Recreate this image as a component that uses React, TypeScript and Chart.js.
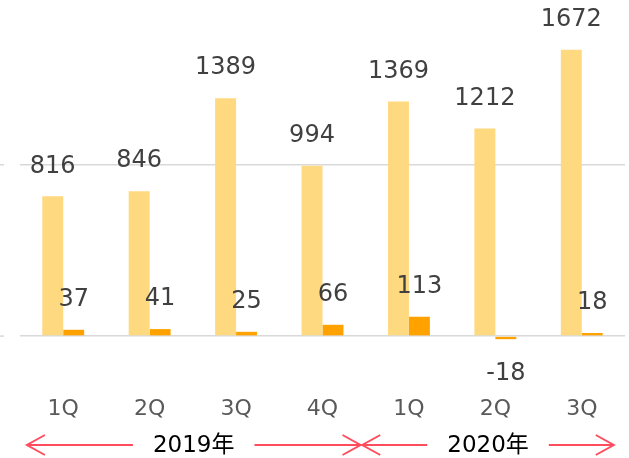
import React, { useEffect, useRef } from "react";
import { Chart, registerables } from "chart.js";

Chart.register(...registerables);

const categories = ["1Q", "2Q", "3Q", "4Q", "1Q", "2Q", "3Q"];
const salesValues = [816, 846, 1389, 994, 1369, 1212, 1672];
const profitValues = [37, 41, 25, 66, 113, -18, 18];
const yTicks = [0, 1000];
const yMax = 1962;
const yearLabels = ["2019年", "2020年"];
const yearStartIndex = [0, 4];
const yearEndIndex = [3, 6];

const SALES_COLOR = "#FFD97F";
const PROFIT_COLOR = "#FFA200";
const ARROW_COLOR = "#FF4D5E";
const FONT = "'DejaVu Sans', 'Noto Sans CJK JP', sans-serif";

const dataLabelPlugin = {
  id: "dataLabels",
  afterDatasetsDraw(chart: any) {
    const ctx = chart.ctx;
    ctx.save();
    ctx.font = `24px ${FONT}`;
    ctx.fillStyle = "#404040";
    ctx.textAlign = "center";
    ctx.textBaseline = "middle";
    chart.data.datasets.forEach((ds: any, di: number) => {
      const meta = chart.getDatasetMeta(di);
      meta.data.forEach((el: any, i: number) => {
        const v = ds.data[i];
        const y = v >= 0 ? el.y - 30 : el.y + 35;
        ctx.fillText(String(v), el.x, y);
      });
    });
    ctx.restore();
  },
};

const yearPlugin = {
  id: "yearArrows",
  afterDraw(chart: any) {
    const ctx = chart.ctx;
    const xs = chart.scales.x;
    const step = xs.getPixelForValue(1) - xs.getPixelForValue(0);
    const offsets = [
      [-0.42, 0.44],
      [-0.54, 0.37],
    ];
    const yRow = 445;
    ctx.save();
    ctx.font = `23px ${FONT}`;
    ctx.textAlign = "center";
    ctx.textBaseline = "middle";
    yearLabels.forEach((label, k) => {
      const left = xs.getPixelForValue(yearStartIndex[k]) + offsets[k][0] * step;
      const right = xs.getPixelForValue(yearEndIndex[k]) + offsets[k][1] * step;
      const cx = (left + right) / 2;
      ctx.fillStyle = "#000000";
      ctx.fillText(label, cx, yRow + 1);
      const tw = ctx.measureText(label).width;
      const gap = 20;
      ctx.strokeStyle = ARROW_COLOR;
      ctx.lineWidth = 2;
      ctx.beginPath();
      ctx.moveTo(cx - tw / 2 - gap, yRow);
      ctx.lineTo(left, yRow);
      ctx.moveTo(left + 18, yRow - 10);
      ctx.lineTo(left, yRow);
      ctx.lineTo(left + 18, yRow + 10);
      ctx.stroke();
      ctx.beginPath();
      ctx.moveTo(cx + tw / 2 + gap, yRow);
      ctx.lineTo(right, yRow);
      ctx.moveTo(right - 18, yRow - 10);
      ctx.lineTo(right, yRow);
      ctx.lineTo(right - 18, yRow + 10);
      ctx.stroke();
    });
    ctx.restore();
  },
};

const yTickMarkPlugin = {
  id: "yTickMarks",
  afterDraw(chart: any) {
    const ctx = chart.ctx;
    const ys = chart.scales.y;
    ctx.save();
    ctx.strokeStyle = "#d9d9d9";
    ctx.lineWidth = 1.5;
    yTicks.forEach((v) => {
      const y = ys.getPixelForValue(v);
      ctx.beginPath();
      ctx.moveTo(0, y);
      ctx.lineTo(4, y);
      ctx.stroke();
    });
    ctx.restore();
  },
};

export default function App() {
  const canvasRef = useRef<HTMLCanvasElement | null>(null);

  useEffect(() => {
    if (!canvasRef.current) return;
    const chart = new Chart(canvasRef.current, {
      type: "bar",
      data: {
        labels: categories,
        datasets: [
          {
            label: "売上高",
            data: salesValues,
            backgroundColor: SALES_COLOR,
            clip: false as any,
          },
          {
            label: "営業利益",
            data: profitValues,
            backgroundColor: PROFIT_COLOR,
            clip: false as any,
          },
        ],
      },
      options: {
        animation: false,
        responsive: false,
        devicePixelRatio: 1,
        layout: { padding: { left: 20, right: 4, top: 0, bottom: 33.5 } },
        datasets: { bar: { categoryPercentage: 0.485, barPercentage: 1 } },
        plugins: { legend: { display: false }, tooltip: { enabled: false } },
        scales: {
          x: {
            grid: {
              display: true,
              drawOnChartArea: false,
              drawTicks: true,
              tickLength: 58,
              color: "rgba(0,0,0,0)",
            },
            border: { display: false },
            ticks: {
              color: "#595959",
              font: { family: FONT, size: 22 },
              padding: 2,
              maxRotation: 0,
              autoSkip: false,
            },
          },
          y: {
            min: 0,
            max: yMax,
            afterBuildTicks: (axis: any) => {
              axis.ticks = yTicks.map((v) => ({ value: v }));
            },
            ticks: { display: false },
            grid: { color: "#d9d9d9", lineWidth: 1.5, drawTicks: false },
            border: { display: false },
          },
        },
      },
      plugins: [dataLabelPlugin, yearPlugin, yTickMarkPlugin],
    });
    return () => chart.destroy();
  }, []);

  return (
    <div style={{ position: "absolute", left: 0, top: 0, width: 629, height: 458, background: "#fff" }}>
      <canvas ref={canvasRef} width={629} height={458} />
    </div>
  );
}
